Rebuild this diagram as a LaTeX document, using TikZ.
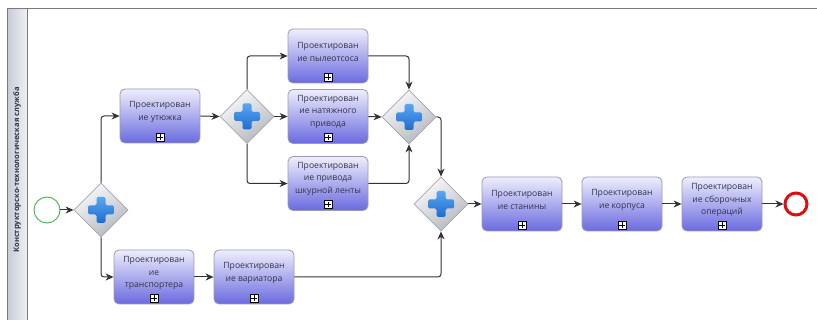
\documentclass[tikz,border=0pt]{standalone}
\usepackage{fontspec}
\setmainfont{Open Sans}
\usetikzlibrary{shapes.geometric,arrows.meta}

\definecolor{taskTop}{HTML}{EEEEFC}
\definecolor{taskBot}{HTML}{6A6AE0}
\definecolor{taskLine}{HTML}{9A9AB2}
\definecolor{flowLine}{HTML}{333333}
\definecolor{labelText}{HTML}{33334A}
\definecolor{gwTop}{HTML}{FAFAFC}
\definecolor{gwBot}{HTML}{B4B7C0}
\definecolor{gwLine}{HTML}{A4A6AE}
\definecolor{plusTop}{HTML}{5AA6F0}
\definecolor{plusBot}{HTML}{1E6CD0}
\definecolor{startGreen}{HTML}{4CAF50}
\definecolor{endRed}{HTML}{E00E0E}
\definecolor{laneDark}{HTML}{C6CBD3}
\definecolor{laneLight}{HTML}{EEF0F3}
\definecolor{frameLine}{HTML}{7A7A7A}

\tikzset{
  x=1pt, y=-1pt,
  taskbox/.style={rectangle, rounded corners=5pt, draw=taskLine, line width=0.8pt,
    top color=taskTop, bottom color=taskBot,
    minimum width=80pt, minimum height=54pt, inner sep=0pt,
    path picture={
      % collapsed sub-process marker
      \draw[sharp corners, black, line width=0.7pt, fill=white]
        ([shift={(-4pt,2pt)}]path picture bounding box.south) rectangle +(8pt,8pt);
      \draw[sharp corners, black, line width=0.7pt]
        ([shift={(-2.7pt,6pt)}]path picture bounding box.south) -- +(5.4pt,0pt);
      \draw[sharp corners, black, line width=0.7pt]
        ([shift={(0pt,3.3pt)}]path picture bounding box.south) -- +(0pt,5.4pt);
    }},
  tasktext/.style={align=center, inner sep=0pt, text=labelText,
    font=\fontsize{8.6}{12.5}\selectfont},
  gateway/.style={diamond, aspect=1, minimum width=54pt, minimum height=54pt,
    inner sep=0pt, draw=gwLine, line width=0.8pt,
    top color=gwTop, bottom color=gwBot, shading angle=35,
    path picture={
      \begin{scope}[shift={(path picture bounding box.center)}]
        \shade[top color=plusTop, bottom color=plusBot, rounded corners=1.5pt]
          (-4.5pt,13pt) -- (4.5pt,13pt) -- (4.5pt,4.5pt) -- (13pt,4.5pt)
          -- (13pt,-4.5pt) -- (4.5pt,-4.5pt) -- (4.5pt,-13pt) -- (-4.5pt,-13pt)
          -- (-4.5pt,-4.5pt) -- (-13pt,-4.5pt) -- (-13pt,4.5pt) -- (-4.5pt,4.5pt) -- cycle;
      \end{scope}
    }},
  flow/.style={draw=flowLine, line width=1pt, rounded corners=3pt,
    -{Stealth[length=8pt, width=7pt, inset=2.5pt]}},
}

\begin{document}
\begin{tikzpicture}
\useasboundingbox (0,0) rectangle (817,320);
\fill[white] (0,0) rectangle (817,320);

% pool frame and lane header
\shade[left color=laneDark, right color=laneLight] (7,9) rectangle (27,320);
\draw[frameLine, line width=1pt] (7,320) -- (7,9) -- (817,9);
\draw[frameLine, line width=0.8pt] (27,9) -- (27,320);
\node[rotate=90, text=labelText, font=\fontsize{7.6}{9}\selectfont\bfseries]
  (lane) at (17,170) {Конструкторско-технологическая служба};

% events
\node[circle, draw=startGreen, line width=0.9pt, fill=white, minimum size=26pt, inner sep=0pt]
  (start) at (47,210) {};
\node[circle, draw=endRed, line width=3pt, fill=white, minimum size=22pt, inner sep=0pt]
  (finish) at (796,204) {};

% gateways
\node[gateway] (g1) at (101,210) {};
\node[gateway] (g2) at (247,116.5) {};
\node[gateway] (g3) at (409,117) {};
\node[gateway] (g4) at (441,204) {};

% tasks
\node[taskbox] (t1) at (160,116) {};
\node[tasktext] (t1txt) at ([yshift=4pt]t1.center) {Проектирован\\ие утюжка};
\node[taskbox] (t2) at (328,56) {};
\node[tasktext] (t2txt) at ([yshift=4pt]t2.center) {Проектирован\\ие пылеотсоса};
\node[taskbox] (t3) at (328,116.5) {};
\node[tasktext] (t3txt) at ([yshift=5pt]t3.center) {Проектирован\\ие натяжного\\привода};
\node[taskbox] (t4) at (328,183.5) {};
\node[tasktext] (t4txt) at ([yshift=5pt]t4.center) {Проектирован\\ие привода\\шкурной ленты};
\node[taskbox] (t5) at (154,277) {};
\node[tasktext] (t5txt) at ([yshift=4pt]t5.center) {Проектирован\\ие\\транспортера};
\node[taskbox] (t6) at (254,277) {};
\node[tasktext] (t6txt) at ([yshift=4pt]t6.center) {Проектирован\\ие вариатора};
\node[taskbox] (t7) at (522,204) {};
\node[tasktext] (t7txt) at ([yshift=4pt]t7.center) {Проектирован\\ие станины};
\node[taskbox] (t8) at (622,204) {};
\node[tasktext] (t8txt) at ([yshift=4pt]t8.center) {Проектирован\\ие корпуса};
\node[taskbox] (t9) at (722,204) {};
\node[tasktext] (t9txt) at ([yshift=4pt]t9.center) {Проектирован\\ие сборочных\\операций};

% sequence flows
\draw[flow] (start.east) -- (g1.west);
\draw[flow] (g1.north) |- (t1.west);
\draw[flow] (g1.south) |- (t5.west);
\draw[flow] (t1.east) -- (g2.west);
\draw[flow] (g2.north) |- (t2.west);
\draw[flow] (g2.east) -- (t3.west);
\draw[flow] (g2.south) |- (t4.west);
\draw[flow] (t2.east) -| (g3.north);
\draw[flow] (t3.east) -- (g3.west);
\draw[flow] (t4.east) -| (g3.south);
\draw[flow] (g3.east) -| (g4.north);
\draw[flow] (t5.east) -- (t6.west);
\draw[flow] (t6.east) -| (g4.south);
\draw[flow] (g4.east) -- (t7.west);
\draw[flow] (t7.east) -- (t8.west);
\draw[flow] (t8.east) -- (t9.west);
\draw[flow] (t9.east) -- (finish.west);
\end{tikzpicture}
\end{document}
